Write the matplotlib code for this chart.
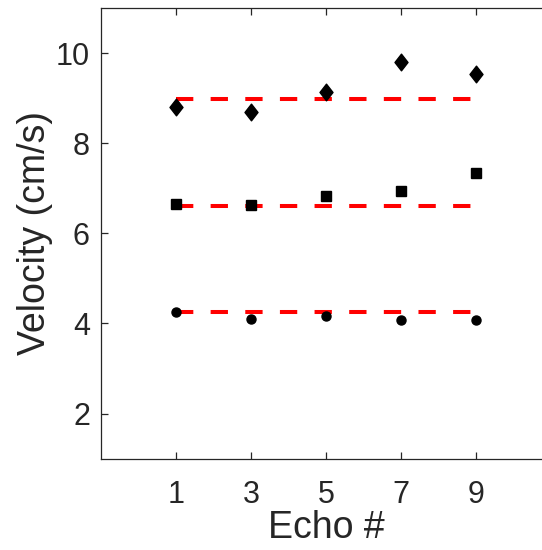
import numpy as np
import matplotlib
matplotlib.use("Agg")
import matplotlib.pyplot as plt
from matplotlib.path import Path

plt.rcParams['font.family'] = ['Liberation Sans', 'DejaVu Sans']

echo = [1, 3, 5, 7, 9]
# three velocity groups
v_high = [8.80, 8.69, 9.13, 9.80, 9.54]
v_mid = [6.66, 6.64, 6.82, 6.95, 7.33]
v_low = [4.26, 4.11, 4.16, 4.07, 4.08]
# reference levels (red dashed lines)
ref_levels = [8.97, 6.61, 4.25]
ref_span = [1, 9]

# MATLAB-like diamond, a bit wider than matplotlib's 'd'
diamond = Path([(0, 1), (0.78, 0), (0, -1), (-0.78, 0), (0, 1)],
               [Path.MOVETO, Path.LINETO, Path.LINETO, Path.LINETO, Path.CLOSEPOLY])

fig = plt.figure(figsize=(5.42, 5.5), dpi=100)
ax = fig.add_axes([101/542, 1 - 458.7/550, 450/542, 450.7/550])

for lvl in ref_levels:
    ax.plot(ref_span, [lvl, lvl], color='red', lw=2.9, dashes=(4.3, 4.3),
            dash_capstyle='butt', zorder=2)

ax.plot(echo, v_high, 'k', ls='none', marker=diamond, ms=12, zorder=3)
ax.plot(echo, v_mid, 'ks', ms=7.5, zorder=3)
ax.plot(echo, v_low, 'ko', ms=6.5, zorder=3)

ax.set_xlim(-1, 11)
ax.set_ylim(1, 11)
ax.set_xticks(echo)
ax.set_yticks([2, 4, 6, 8, 10])

for s in ax.spines.values():
    s.set_color('#262626')
    s.set_linewidth(0.9)
ax.tick_params(direction='in', length=5, width=0.9, color='#262626',
               top=True, right=True, labelsize=22, labelcolor='#262626')
ax.tick_params(axis='x', pad=15)
ax.tick_params(axis='y', pad=8)

ax.set_xlabel('Echo #', fontsize=27, color='#262626', labelpad=0)
ax.set_ylabel('Velocity (cm/s)', fontsize=27, color='#262626', labelpad=2)

fig.savefig('out.png', dpi=100)
